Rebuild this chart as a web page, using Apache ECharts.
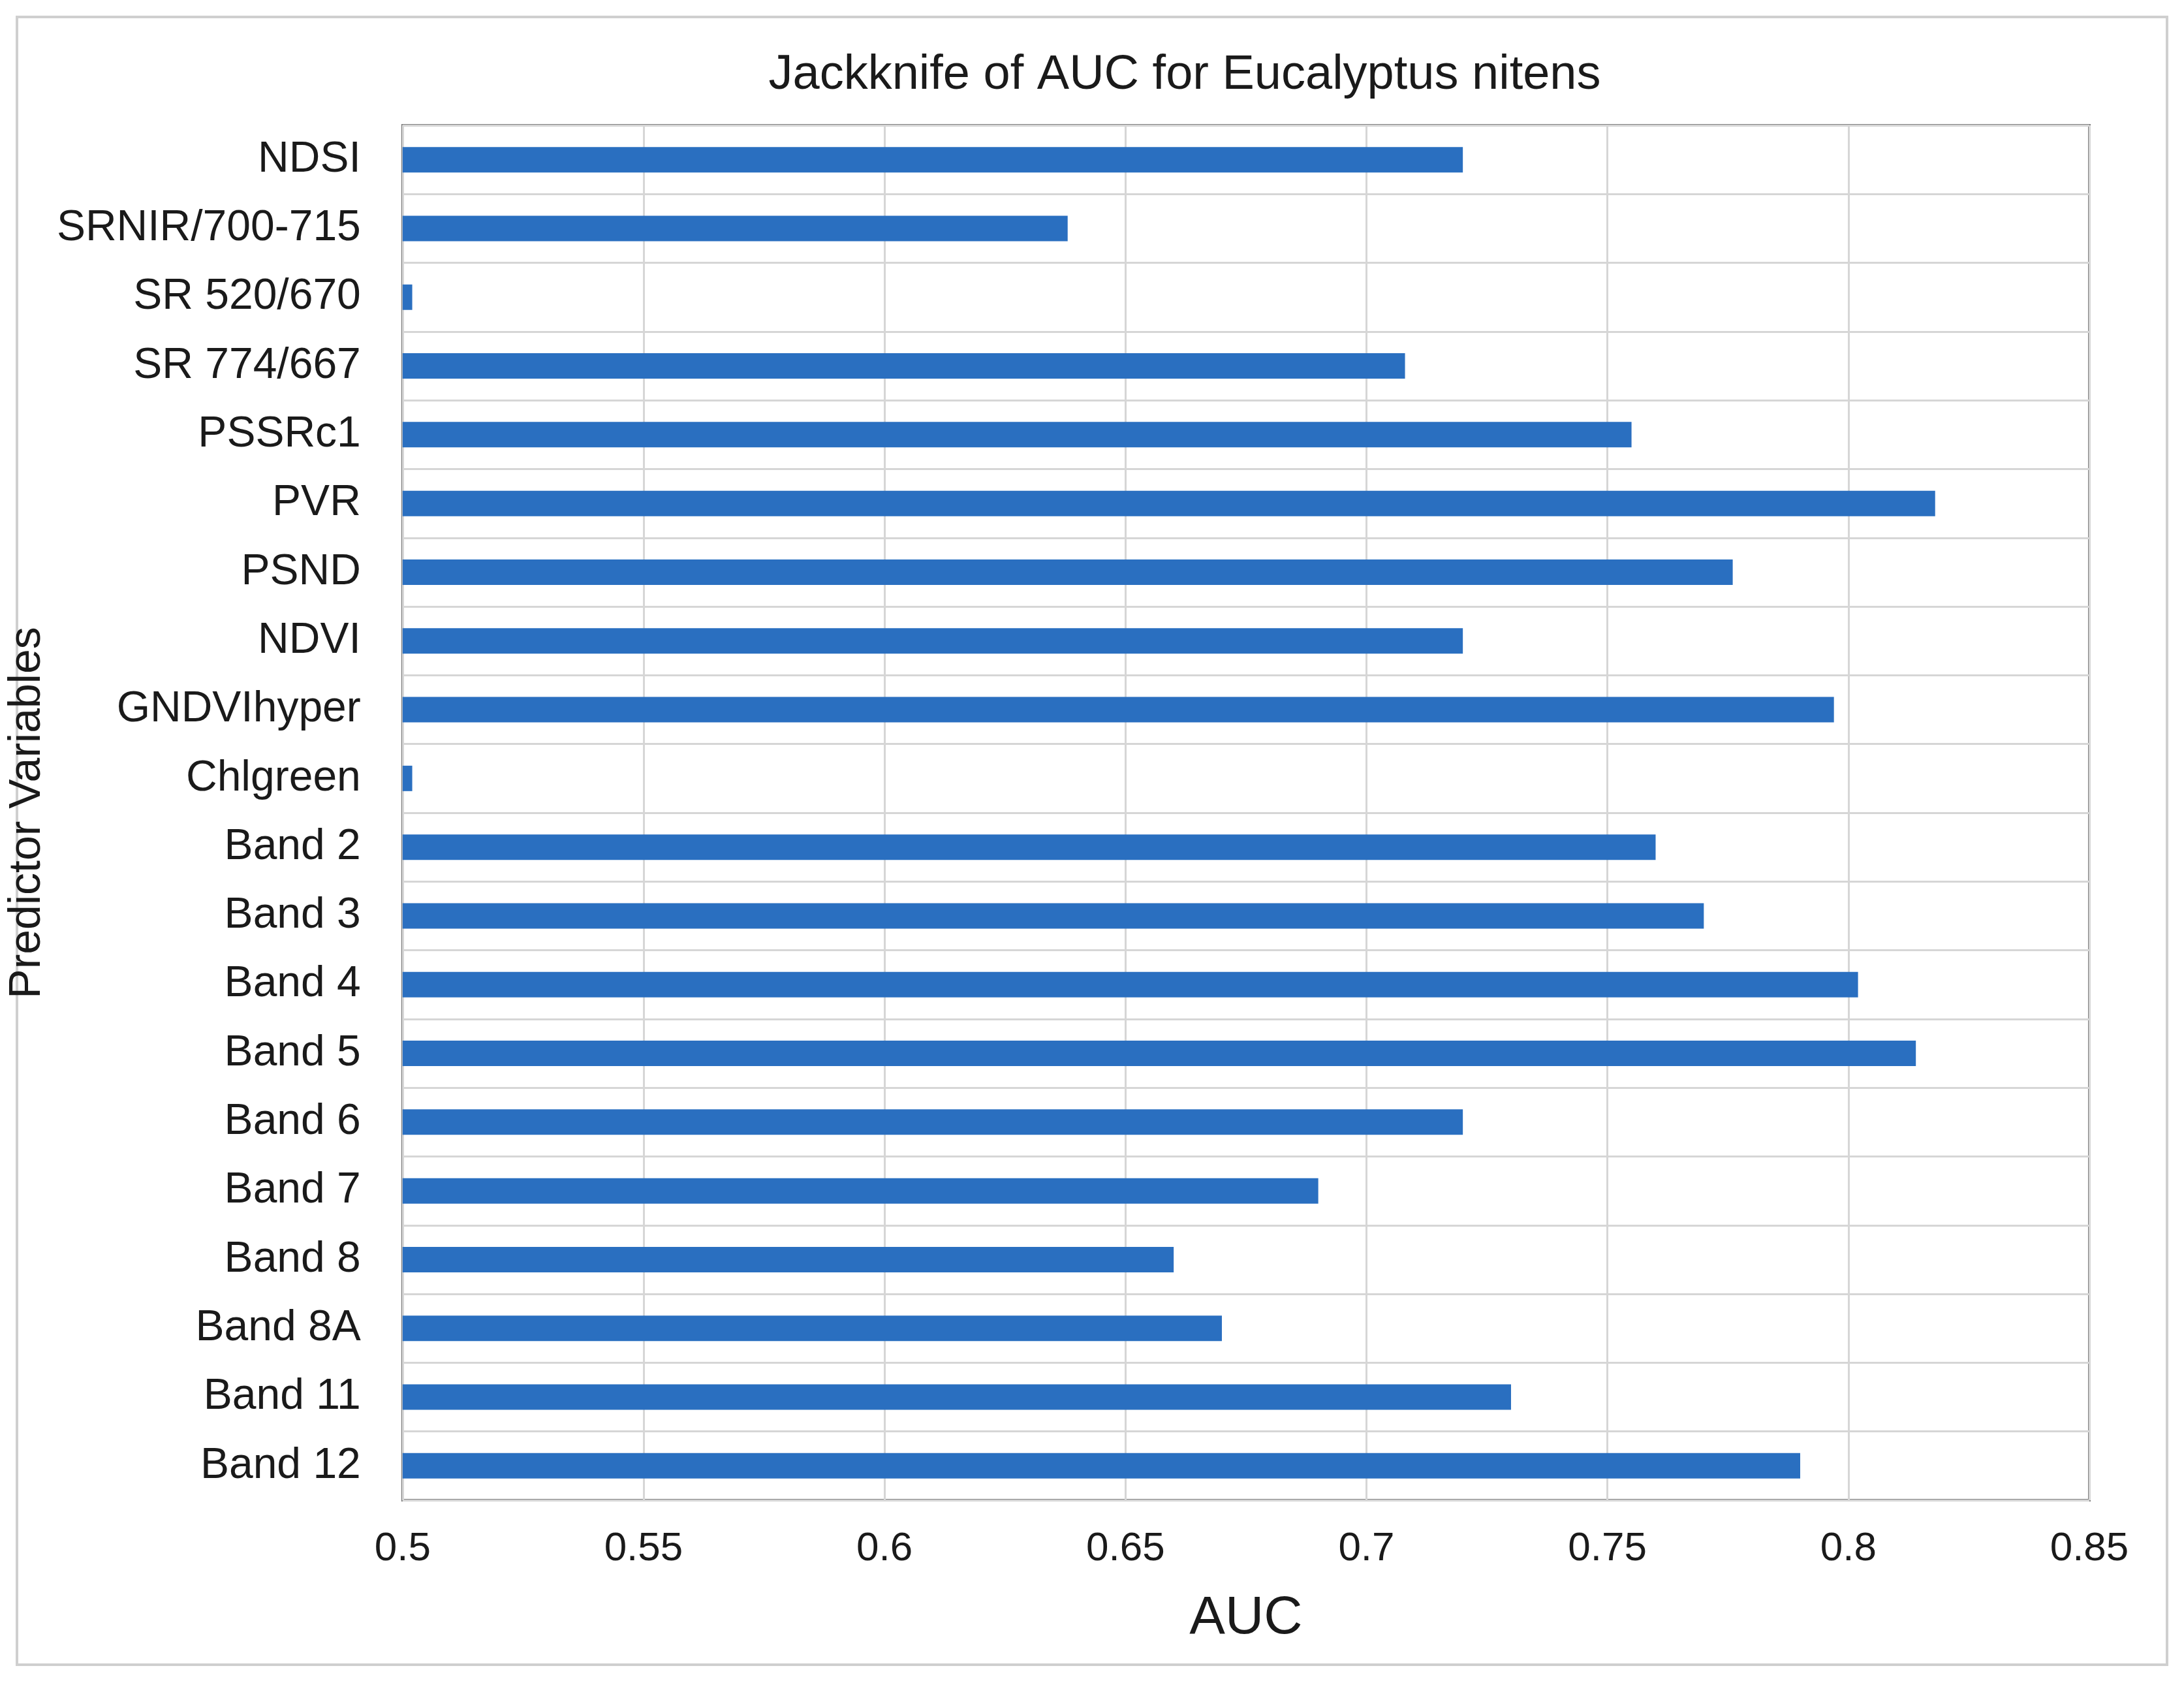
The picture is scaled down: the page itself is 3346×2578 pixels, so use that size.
<!DOCTYPE html>
<html>
<head>
<meta charset="utf-8">
<script src="https://cdn.jsdelivr.net/npm/echarts@6/dist/echarts.min.js"></script>
<style>html,body{margin:0;padding:0;background:#fff}#chart{width:3346px;height:2578px}</style>
</head>
<body>
<div id="chart"></div>
<script>
const categories = ['NDSI', 'SRNIR/700-715', 'SR 520/670', 'SR 774/667', 'PSSRc1', 'PVR', 'PSND', 'NDVI',
    'GNDVIhyper', 'Chlgreen', 'Band 2', 'Band 3', 'Band 4', 'Band 5', 'Band 6', 'Band 7', 'Band 8',
    'Band 8A', 'Band 11', 'Band 12'];
const aucValues = [0.72, 0.638, 0.502, 0.708, 0.755, 0.818, 0.776, 0.72, 0.797, 0.502, 0.76, 0.77,
    0.802, 0.814, 0.72, 0.69, 0.66, 0.67, 0.73, 0.79];

const font = 'Liberation Sans, Arial, sans-serif';
const chart = echarts.init(document.getElementById('chart'));
chart.setOption({
    animation: false,
    textStyle: { fontFamily: font },
    title: {
        text: 'Jackknife of AUC for Eucalyptus nitens',
        left: 1810, top: 74, textAlign: 'center',
        textStyle: { fontSize: 74, fontWeight: 500, color: '#1a1a1a', fontFamily: font },
    },
    graphic: [{
        type: 'rect', shape: { x: 26, y: 26, width: 3294, height: 2524 },
        style: { fill: 'none', stroke: '#cfcfcf', lineWidth: 4 },
    }],
    grid: { left: 608, right: 145, top: 192, bottom: 280, show: true, borderColor: '#808080', borderWidth: 4 },
    xAxis: {
        type: 'value', min: 0.5, max: 0.85, interval: 0.05,
        name: 'AUC', nameLocation: 'middle', nameGap: 140,
        nameTextStyle: { fontSize: 82, color: '#1a1a1a' },
        axisLine: { show: false }, axisTick: { show: false },
        axisLabel: { fontSize: 62, color: '#1a1a1a', margin: 44, formatter: v => String(+v.toFixed(2)) },
        splitLine: { lineStyle: { color: '#d6d6d6', width: 3 } },
    },
    yAxis: {
        type: 'category', data: categories, inverse: true,
        name: 'Predictor Variables', nameLocation: 'middle', nameGap: 470, nameRotate: 90,
        nameTextStyle: { fontSize: 68, color: '#1a1a1a' },
        axisLine: { show: false }, axisTick: { show: false },
        axisLabel: { fontSize: 66, color: '#1a1a1a', margin: 64 },
        splitLine: { show: true, lineStyle: { color: '#d6d6d6', width: 3 } },
    },
    series: [{
        type: 'bar', data: aucValues, barWidth: '37%',
        itemStyle: { color: '#2a6fc0' },
    }],
});
</script>
</body>
</html>
